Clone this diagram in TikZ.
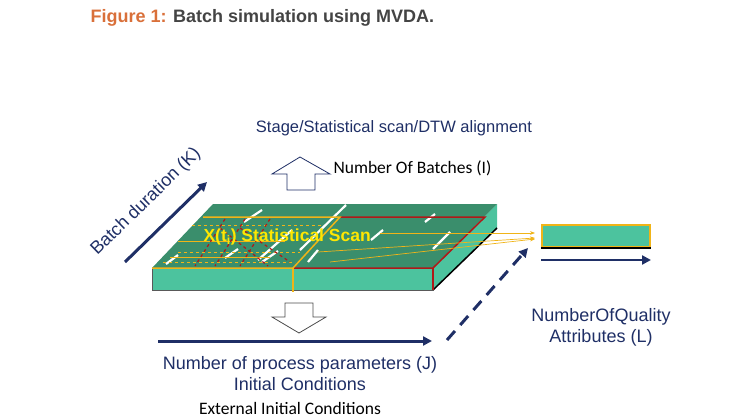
\documentclass[tikz,border=0pt]{standalone}
\usepackage{fontspec}
\setmainfont{Liberation Sans}
\newfontfamily\calib{Carlito}
\usetikzlibrary{arrows.meta,shapes.arrows}
\definecolor{navy}{HTML}{1F2F66}
\definecolor{topc}{HTML}{3A8E6C}
\definecolor{frontc}{HTML}{4CC39E}
\definecolor{org}{HTML}{D9703A}
\definecolor{ttl}{HTML}{444444}
\definecolor{ylw}{HTML}{F0B418}
\definecolor{rd}{HTML}{B01818}
\begin{document}
\begin{tikzpicture}[x=1pt,y=-1pt,
  nav/.style={draw=navy,line width=3pt,-{Triangle[length=9pt,width=9pt]}},
  lbl/.style={text=navy,font=\fontsize{18}{21}\selectfont,align=center},
  blk/.style={draw=navy,fill=white,line width=0.8pt},
  wd/.style={draw=white,line width=2.2pt},
  yl/.style={draw=ylw,line width=1pt},
  rdd/.style={draw=rd,line width=1.2pt,dashed}]
\useasboundingbox (0,0) rectangle (750,420);
\node[anchor=west,font=\bfseries\fontsize{18}{20}\selectfont] (title) at (87,18) {\textcolor{org}{Figure 1:} \textcolor{ttl}{Batch simulation using MVDA.}};
\node[lbl,font=\fontsize{16.5}{19}\selectfont] (stage) at (394,128) {Stage/Statistical scan/DTW alignment};
\draw[blk] (287,190) -- (287,174) -- (272,174) -- (300,157) -- (330,174) -- (315,174) -- (315,190) -- cycle;
\node[anchor=west,font=\calib\fontsize{17.5}{20}\selectfont] (nb) at (330,168) {Number Of Batches (I)};
% slab
\coordinate (BL) at (213,204); \coordinate (BR) at (497,204);
\coordinate (FR) at (433,268); \coordinate (FL) at (152,268);
\fill[frontc] (FL) rectangle (433,290);
\fill[frontc] (FR) -- (BR) -- (497,228) -- (433,290) -- cycle;
\draw[black,line width=1.5pt] (433,290) -- (497,228);
\fill[topc] (BL) -- (BR) -- (FR) -- (FL) -- cycle;
\draw[gray!70!black,line width=0.6pt] (FL) rectangle (433,290);
% white dashes
\foreach \a/\b in {{(262,210)}/{(244,222)},{(346,205)}/{(300,250)},{(292,230)}/{(258,260)},{(178,255)}/{(166,264)},{(238,249)}/{(225,258)},{(278,251)}/{(262,262)},{(435,214)}/{(425,222)},{(383,230)}/{(371,240)},{(450,232)}/{(433,249)},{(318,250)}/{(308,262)}}
  \draw[wd] \a -- \b;
% red region
\draw[rd,line width=1.5pt] (340,217) -- (485,217) -- (433,268) -- (293,268);
\draw[rd,line width=1.5pt] (433,268) -- (433,290);
% yellow region
\draw[ylw,line width=1.5pt] (203,217) -- (340,217) -- (293,268) -- (152,268);
\draw[ylw,line width=1.5pt] (293,268) -- (293,292);
\draw[yl] (178,241) -- (285,241);
\draw[yl] (170,257) -- (270,257);
\draw[ylw,dashed,line width=0.8pt] (192,225) -- (322,225);
\draw[ylw,dashed,line width=0.8pt] (178,252) -- (300,252);
\draw[ylw,dashed,line width=0.8pt] (163,262) -- (295,262);
\foreach \x in {225,245,270}{\draw[rdd] (\x,219) -- (\x-30,266);}
\draw[rdd] (220,228) -- (268,266);
\draw[rdd] (240,228) -- (290,262);
% arrows to output
\node[text=yellow!90!orange,font=\bfseries\fontsize{17.5}{20}\selectfont,anchor=west] (xs) at (200,237) {X(t$_\mathbf{i}$) Statistical Scan};
\node[draw=ylw,fill=frontc,line width=2pt,minimum width=108pt,minimum height=22pt,inner sep=0pt] (out) at (596,236) {};
\draw[black,line width=2pt] (out.south west) -- (out.south east);
\draw[ylw,line width=0.7pt,-{Stealth[length=5pt]}] (380,233) -- (535,233);
\draw[ylw,line width=0.7pt,-{Stealth[length=5pt]}] (318,252) -- (535,238);
\draw[ylw,line width=0.7pt,-{Stealth[length=5pt]}] (330,262) -- (535,239);
\draw[nav,line width=2.5pt] (541,260) -- (651,260);
\node[lbl] (nq) at (601,327) {NumberOfQuality\\Attributes (L)};
% batch duration
\coordinate (k0) at (125,262); \coordinate (k1) at (207,182);
\draw[nav] (k0) -- (k1);
\node[lbl,rotate=44.3,text=navy] (bd) at (146,202) {Batch duration (K)};
% down arrow
\draw[blk,draw=black!70] (285,303) -- (313,303) -- (313,317) -- (326,317) -- (299,333) -- (272,317) -- (285,317) -- cycle;
\coordinate (j0) at (158,341); \coordinate (j1) at (432,341);
\draw[nav] (j0) -- (j1);
\node[lbl] (np) at (300,374) {Number of process parameters (J)\\Initial Conditions};
\node[font=\calib\fontsize{17.5}{20}\selectfont] (ext) at (290,408) {External Initial Conditions};
\coordinate (d0) at (447,340); \coordinate (d1) at (528,248);
\draw[nav,dash pattern=on 12pt off 8pt] (d0) -- (d1);
\end{tikzpicture}
\end{document}
